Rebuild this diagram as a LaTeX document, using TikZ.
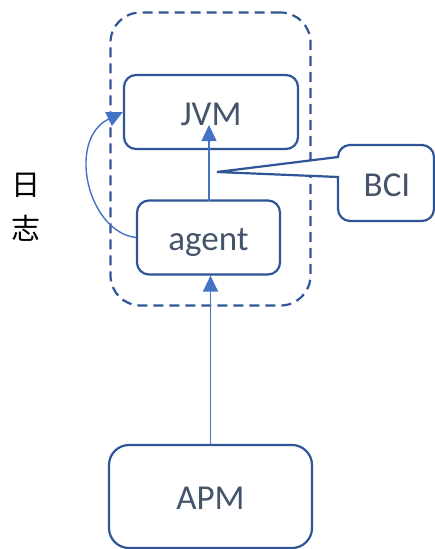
\documentclass[tikz,border=0pt]{standalone}
\usepackage{fontspec}
\setmainfont{Carlito}
\newfontfamily\cjk{Noto Sans CJK SC}
\usetikzlibrary{arrows.meta}
\definecolor{boxline}{HTML}{2F5597}
\definecolor{arrowblue}{HTML}{4472C4}
\definecolor{labelgray}{HTML}{44546A}
\tikzset{
  labeltext/.style={text=labelgray, font=\fontsize{35}{40}\selectfont,
    text height=26pt, text depth=0pt},
  box/.style={labeltext, draw=boxline, line width=2.2pt, rounded corners=12pt,
    fill=white, inner sep=0pt},
  link/.style={draw=arrowblue, line width=1.4pt,
    -{Triangle[length=16pt,width=15pt]}}
}
\begin{document}
\begin{tikzpicture}[x=1pt,y=-1pt]
\useasboundingbox (0,0) rectangle (435,549);
% dashed container
\node[draw=boxline, line width=2.2pt, dash pattern=on 10pt off 6pt,
  rounded corners=30pt, minimum width=200pt, minimum height=293pt,
  inner sep=0pt] (frame) at (210.5,159) {};
% boxes
\node[box, minimum width=174pt, minimum height=74pt] (jvm) at (211,112) {JVM};
\node[box, minimum width=143pt, minimum height=74pt] (agent) at (208.5,237.5) {agent};
\node[box, rounded corners=20pt, minimum width=203pt, minimum height=103pt] (apm) at (210.5,496.5) {APM};
% callout
\coordinate (tip) at (217,172);
\draw[boxline, line width=2.2pt, fill=white, rounded corners=12pt]
  (338,157) -- (338,145) -- (434,145) -- (434,221) -- (338,221)
  [sharp corners] -- (338,177) -- (tip) -- cycle;
\node[labeltext] (bci) at (387,183) {BCI};
% connectors
\coordinate (apmtop) at (210.5,445);
\coordinate (agenttop) at (209,201);
\coordinate (jvmin) at (209,125);
\draw[link] (apmtop) -- (agent.south -| apmtop);
\draw[link] (agenttop) -- (jvmin);
\draw[link] (agent.west) .. controls (88,232) and (66,140) .. (jvm.west);
% side label
\node[font=\cjk\fontsize{29}{44}\selectfont, align=center] (log) at (26,207) {日\\志};
\end{tikzpicture}
\end{document}
